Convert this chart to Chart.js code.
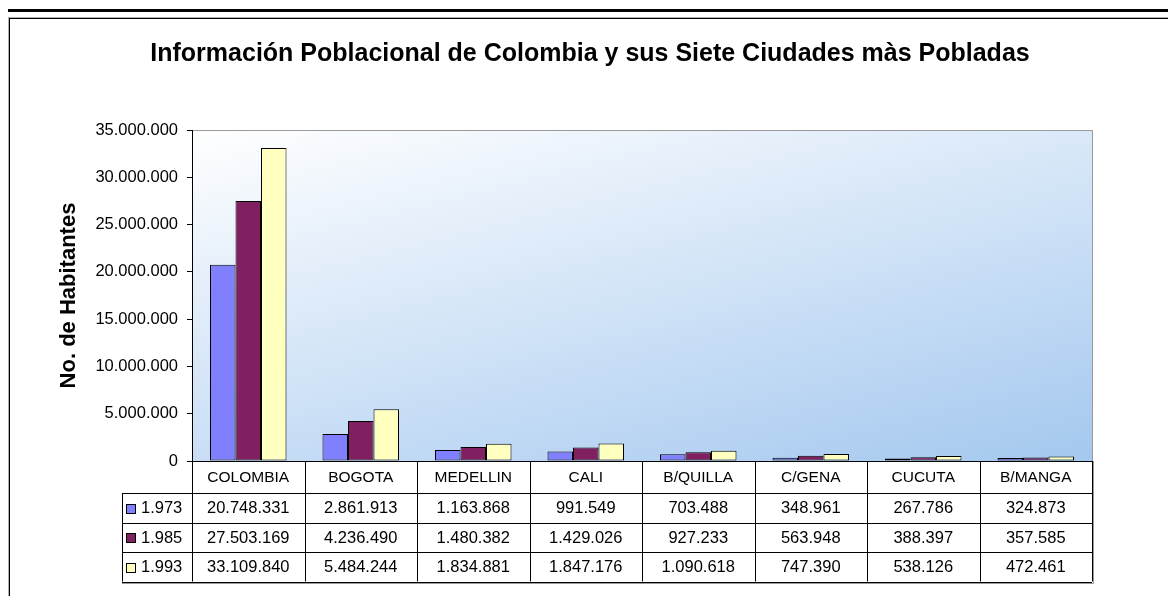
<!DOCTYPE html>
<html><head><meta charset="utf-8">
<script src="https://cdn.jsdelivr.net/npm/chart.js@4"></script>
<style>html,body{margin:0;padding:0;background:#fff}#wrap{width:1168px;height:596px}</style>
</head><body><div id="wrap"><canvas id="c" width="1168" height="596"></canvas></div>
<script>
const chartTitle = 'Información Poblacional de Colombia y sus Siete Ciudades màs Pobladas';
const yAxisTitle = 'No. de Habitantes';
const categories = ['COLOMBIA','BOGOTA','MEDELLIN','CALI','B/QUILLA','C/GENA','CUCUTA','B/MANGA'];
const seriesNames = ['1.973','1.985','1.993'];
const values1973 = [20748331,2861913,1163868,991549,703488,348961,267786,324873];
const values1985 = [27503169,4236490,1480382,1429026,927233,563948,388397,357585];
const values1993 = [33109840,5484244,1834881,1847176,1090618,747390,538126,472461];
const yTicks = [0,5000000,10000000,15000000,20000000,25000000,30000000,35000000];
const seriesColors = ['#8080FF','#802060','#FFFFC0'];

const FONT = '"Liberation Sans", Arial, Helvetica, sans-serif';
const fmt = n => String(n).replace(/\B(?=(\d{3})+(?!\d))/g, '.');
const seriesValues = [values1973, values1985, values1993];

const framePlugin = {
  id: 'frame',
  beforeDraw(chart) {
    const ctx = chart.ctx, ca = chart.chartArea;
    ctx.save();
    ctx.fillStyle = '#fff';
    ctx.fillRect(0, 0, chart.width, chart.height);
    ctx.fillStyle = '#000';
    ctx.fillRect(8, 9, chart.width - 8, 3);
    ctx.fillStyle = '#b0b0b0';
    ctx.fillRect(8, 17, chart.width - 8, 1);
    ctx.fillRect(8, 17, 1, chart.height - 17);
    ctx.fillStyle = '#000';
    ctx.fillRect(9, 18, chart.width - 9, 1);
    ctx.fillRect(9, 18, 1, chart.height - 18);
    const w = ca.right - ca.left, h = ca.bottom - ca.top;
    const a = 0.4, b = 0.6;
    const gx = a / w, gy = b / h, g2 = gx * gx + gy * gy;
    const grad = ctx.createLinearGradient(ca.left, ca.top, ca.left + gx / g2, ca.top + gy / g2);
    grad.addColorStop(0, '#ffffff');
    grad.addColorStop(1, '#a4c8ef');
    ctx.fillStyle = grad;
    ctx.fillRect(ca.left, ca.top, w, h);
    ctx.strokeStyle = '#9a9a9a';
    ctx.lineWidth = 1;
    ctx.beginPath();
    ctx.moveTo(ca.left, ca.top + 0.5);
    ctx.lineTo(ca.right + 0.5, ca.top + 0.5);
    ctx.lineTo(ca.right + 0.5, ca.bottom);
    ctx.stroke();
    ctx.restore();
  },
  afterDraw(chart) {
    const ctx = chart.ctx, ca = chart.chartArea;
    const n = categories.length;
    const cw = (ca.right - ca.left) / n;
    const legendLeft = 122;
    const catTop = ca.bottom, catH = 32, rowH = 29.5;
    const rowTops = [catTop + catH, catTop + catH + rowH, catTop + catH + 2 * rowH];
    const tableBottom = catTop + catH + 3 * rowH;
    const px = v => Math.round(v) + 0.5;
    ctx.save();
    ctx.strokeStyle = '#9a9a9a';
    ctx.lineWidth = 1;
    ctx.beginPath();
    ctx.moveTo(legendLeft, px(tableBottom) + 1);
    ctx.lineTo(px(ca.right) + 1, px(tableBottom) + 1);
    ctx.lineTo(px(ca.right) + 1, catTop);
    ctx.stroke();
    ctx.strokeStyle = '#000';
    ctx.beginPath();
    for (let i = 0; i <= n; i++) {
      const x = px(ca.left + i * cw);
      ctx.moveTo(x, catTop);
      ctx.lineTo(x, tableBottom);
    }
    ctx.moveTo(px(legendLeft), rowTops[0]);
    ctx.lineTo(px(legendLeft), tableBottom);
    [...rowTops, tableBottom].forEach(y => {
      ctx.moveTo(legendLeft, px(y));
      ctx.lineTo(ca.right, px(y));
    });
    ctx.stroke();
    ctx.fillStyle = '#000';
    ctx.textAlign = 'center';
    ctx.textBaseline = 'middle';
    ctx.font = '15.5px ' + FONT;
    const xs = chart.scales.x;
    categories.forEach((c, i) => {
      ctx.fillText(c, xs.getPixelForValue(i), catTop + catH / 2 + 1);
    });
    ctx.font = '16.5px ' + FONT;
    seriesValues.forEach((vals, r) => {
      const yMid = rowTops[r] + rowH / 2 + 1;
      vals.forEach((v, i) => {
        ctx.fillText(fmt(v), xs.getPixelForValue(i), yMid);
      });
      ctx.fillStyle = seriesColors[r];
      ctx.fillRect(126.5, Math.round(yMid - 5) + 0.5, 9, 9);
      ctx.strokeStyle = '#000';
      ctx.strokeRect(126.5, Math.round(yMid - 5) + 0.5, 9, 9);
      ctx.fillStyle = '#000';
      ctx.textAlign = 'left';
      ctx.fillText(seriesNames[r], 141, yMid);
      ctx.textAlign = 'center';
    });
    ctx.restore();
  }
};

new Chart(document.getElementById('c'), {
  type: 'bar',
  data: {
    labels: categories,
    datasets: seriesNames.map((s, i) => ({
      label: s,
      data: seriesValues[i],
      backgroundColor: seriesColors[i],
      borderColor: '#000',
      borderWidth: 1,
      borderSkipped: false,
      categoryPercentage: 0.68,
      barPercentage: 1.0
    }))
  },
  options: {
    responsive: false,
    animation: false,
    devicePixelRatio: 1,
    layout: { padding: { left: 20, right: 8, top: 0, bottom: 0 } },
    plugins: {
      legend: { display: false },
      tooltip: { enabled: false },
      title: {
        display: true,
        text: chartTitle,
        color: '#000',
        font: { family: FONT, size: 25, weight: 'bold' },
        padding: { top: 39, bottom: 61 }
      }
    },
    scales: {
      x: {
        grid: { display: false },
        ticks: { display: false },
        border: { display: true, color: '#000', width: 1 },
        afterFit: s => { s.height = 135; }
      },
      y: {
        min: 0, max: 35000000,
        afterBuildTicks: s => { s.ticks = yTicks.map(v => ({ value: v })); },
        grid: { drawOnChartArea: false, drawTicks: true, tickLength: 5, color: '#000' },
        border: { display: true, color: '#000', width: 1 },
        ticks: { padding: 9, color: '#000', font: { family: FONT, size: 16.5 }, callback: v => fmt(v) },
        title: { display: true, text: yAxisTitle, color: '#000', font: { family: FONT, size: 22, weight: 'bold' }, padding: { top: 36, bottom: 0 } },
        afterFit: s => { s.width = 172; }
      },
      y2: {
        position: 'right',
        display: true,
        grid: { display: false },
        ticks: { display: false },
        border: { display: false },
        afterFit: s => { s.width = 68; }
      }
    }
  },
  plugins: [framePlugin]
});
</script>
</body></html>
